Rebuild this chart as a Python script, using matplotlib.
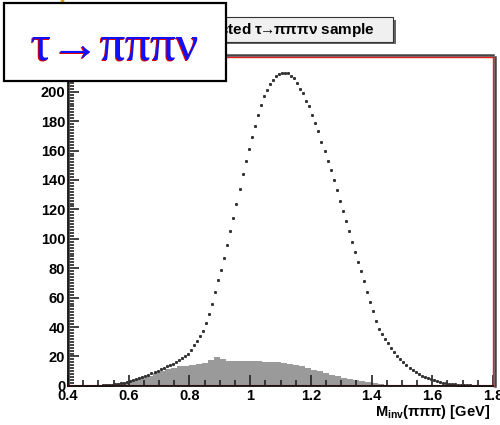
import numpy as np
import matplotlib.pyplot as plt
import matplotlib.patheffects as pe
from matplotlib.patches import Rectangle
from matplotlib.lines import Line2D
from matplotlib.ticker import MultipleLocator

plt.rcParams['mathtext.default'] = 'regular'

# histogram binning: 140 bins of 10 MeV between 0.4 and 1.8 GeV
edges = np.linspace(0.4, 1.8, 141)
centers = 0.5 * (edges[:-1] + edges[1:])

# signal (dotted) entries per bin
signal = [0.05, 0.05, 0.1, 0.1, 0.1, 0.15, 0.15, 0.2, 0.2, 0.2,
          0.2, 0.3, 0.4, 0.6, 0.8, 1.1, 1.4, 1.8, 2.3, 2.9,
          3.4, 3.8, 4.4, 5.1, 6.0, 6.8, 7.7, 8.5, 9.3, 10.3,
          11.2, 12.3, 13.4, 14.3, 15.1, 16.3, 17.5, 18.7, 20.2, 22.0,
          24.5, 27.5, 30.5, 34.0, 37.5, 43.0, 49.0, 56.0, 64.0, 72.0,
          79.0, 87.0, 96.0, 105.0, 114.0, 124.0, 134.0, 144.0, 153.0, 161.0,
          169.0, 177.0, 184.0, 191.0, 197.0, 201.0, 205.0, 208.0, 211.0, 212.0,
          213.0, 213.0, 213.0, 211.0, 209.0, 206.0, 202.0, 199.0, 194.0, 190.0,
          184.0, 179.0, 173.0, 166.0, 160.0, 153.0, 147.0, 140.0, 133.0, 126.0,
          119.0, 112.0, 105.0, 98.0, 91.0, 84.0, 78.0, 71.0, 64.0, 57.0,
          51.0, 44.0, 39.0, 35.0, 32.0, 29.0, 26.0, 23.0, 20.5, 18.0,
          16.0, 14.0, 12.0, 10.5, 9.2, 8.0, 7.0, 6.0, 5.2, 4.4,
          3.8, 3.3, 2.8, 2.3, 1.9, 1.5, 1.2, 1.0, 0.8, 0.6,
          0.5, 0.4, 0.3, 0.2, 0.2, 0.15, 0.1, 0.1, 0.05, 0.05]

# background (filled) histogram, 20 MeV bins
bkg_edges = np.linspace(0.4, 1.8, 71)
background = [0, 0, 0, 0.1, 0.3, 0.6, 1.0, 1.5, 2.1, 2.9,
              3.8, 4.6, 5.5, 7.0, 8.5, 10.0, 11.5, 12.5, 13.2, 13.8,
              14.3, 14.8, 15.8, 17.5, 19.5, 18.0, 17.0, 16.8, 16.7, 16.7,
              16.7, 16.6, 16.5, 16.3, 16.0, 15.5, 15.0, 14.2, 13.2, 12.2,
              11.0, 9.8, 8.7, 7.5, 6.5, 5.6, 4.8, 4.0, 3.3, 2.6,
              1.9, 1.2, 0.6, 0.2, 0, 0, 0, 0, 0, 0,
              0, 0, 0, 0, 0, 0, 0, 0, 0, 0]

fig = plt.figure(figsize=(5, 4.25), dpi=100)
ax = fig.add_axes([0.136, 0.092, 0.850, 0.774])

ax.fill_between(bkg_edges, np.append(background, background[-1]), step='post',
                color='#9a9a9a', lw=0)
ax.plot(centers, signal, ls='none', marker='s', ms=1.15, color='#333333')

ax.set_xlim(0.4, 1.8)
ax.set_ylim(0, 1.05 * max(signal))

ax.xaxis.set_major_locator(MultipleLocator(0.2))
ax.xaxis.set_minor_locator(MultipleLocator(0.05))
ax.yaxis.set_major_locator(MultipleLocator(20))
ax.yaxis.set_minor_locator(MultipleLocator(2))
ax.tick_params(which='both', direction='in', top=False, right=False,
               color='#222222', width=1.2)
ax.tick_params(which='major', length=8, pad=2)
ax.tick_params(which='minor', length=4)
ax.xaxis.set_major_formatter(plt.FuncFormatter(lambda v, p: f'{v:g}'))
for lab in ax.get_xticklabels() + ax.get_yticklabels():
    lab.set_fontfamily('Liberation Sans')
    lab.set_fontweight('bold')
    lab.set_fontsize(10.5)

# red frame with dark outer edge
for side in ['top', 'right']:
    ax.spines[side].set_color('#e02020')
    ax.spines[side].set_linewidth(1.0)
ax.spines['top'].set_path_effects([pe.Stroke(offset=(0, 1.3), linewidth=1.8, foreground='#444444'), pe.Normal()])
ax.spines['right'].set_path_effects([pe.Stroke(offset=(1.3, 0), linewidth=1.8, foreground='#444444'), pe.Normal()])
for side in ['left', 'bottom']:
    ax.spines[side].set_color('#111111')
    ax.spines[side].set_linewidth(1.3)
ax.spines['left'].set_path_effects([pe.Stroke(offset=(1.0, 0), linewidth=0.8, foreground='#e02020'), pe.Normal()])
ax.spines['bottom'].set_path_effects([pe.Stroke(offset=(0, 1.0), linewidth=0.8, foreground='#e02020'), pe.Normal()])

fig.text(0.980, 0.022, r'M$_{inv}$(πππ) [GeV]', ha='right', va='baseline',
         fontsize=10.5, fontweight='bold', family='Liberation Sans')

# title pave with shadow
fig.patches.append(Rectangle((0.305, 0.897), 0.486, 0.057, transform=fig.transFigure,
                             facecolor='#666666', edgecolor='none', zorder=2))
fig.patches.append(Rectangle((0.300, 0.902), 0.486, 0.057, transform=fig.transFigure,
                             facecolor='#f0f0f0', edgecolor='#333333', lw=0.8, zorder=3))
fig.text(0.750, 0.929, r'Selected $\tau\!\!\rightarrow\!\!\pi\pi\pi\nu$ sample', ha='right', va='center',
         fontsize=11, fontweight='bold', family='Liberation Sans', zorder=4)

# decay label box
fig.patches.append(Rectangle((0.007, 0.810), 0.445, 0.182, transform=fig.transFigure,
                             facecolor='white', edgecolor='black', lw=1.6, zorder=5))
decay = 'τ→πππν'
fig.text(0.228, 0.887, decay, ha='center', va='center', fontsize=36, color='#e00000',
         family=['Liberation Serif', 'DejaVu Serif'], zorder=6)
fig.text(0.230, 0.890, decay, ha='center', va='center', fontsize=36, color='#1010ff',
         family=['Liberation Serif', 'DejaVu Serif'], zorder=7)

fig.lines.append(Line2D([0.123, 0.123], [0.988, 1.0], transform=fig.transFigure,
                        color='#e0a000', lw=2.5))

fig.savefig('out.png', dpi=100)
